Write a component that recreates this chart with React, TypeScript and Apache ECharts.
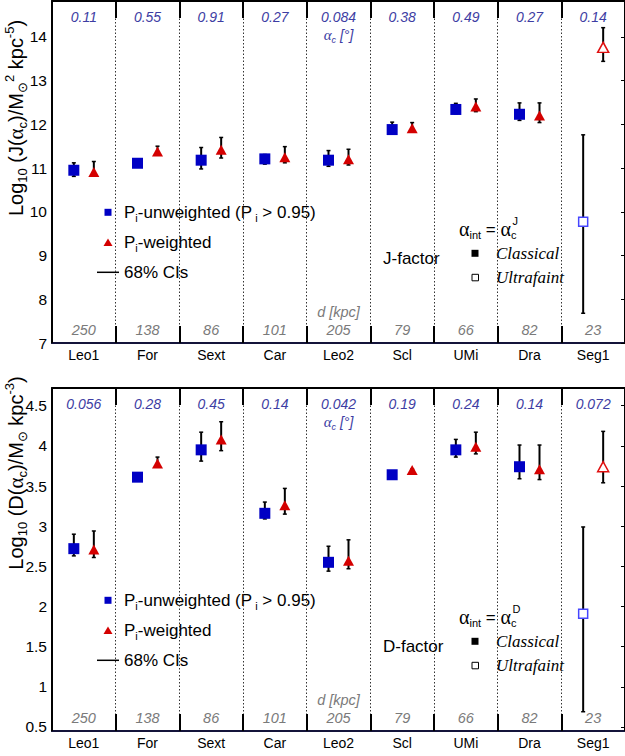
import React, { useEffect, useRef } from 'react';
import * as echarts from 'echarts';

// ---------- data ----------
const categories = ['Leo1', 'For', 'Sext', 'Car', 'Leo2', 'Scl', 'UMi', 'Dra', 'Seg1'];
const distances = ['250', '138', '86', '101', '205', '79', '66', '82', '23'];
const alphaJ = ['0.11', '0.55', '0.91', '0.27', '0.084', '0.38', '0.49', '0.27', '0.14'];
const alphaD = ['0.056', '0.28', '0.45', '0.14', '0.042', '0.19', '0.24', '0.14', '0.072'];
const ultrafaint = [false, false, false, false, false, false, false, false, true];

const jUnw = [10.95, 11.11, 11.18, 11.21, 11.18, 11.88, 12.34, 12.23, 9.77];
const jUnwLo = [10.81, 11.05, 10.98, 11.09, 11.04, 11.81, 12.24, 12.09, 7.68];
const jUnwHi = [11.12, 11.21, 11.47, 11.31, 11.40, 12.05, 12.48, 12.49, 11.76];
const jW = [10.91, 11.38, 11.42, 11.25, 11.20, 11.91, 12.41, 12.20, 13.76];
const jWLo = [10.83, 11.31, 11.23, 11.12, 11.07, 11.88, 12.29, 12.04, 13.44];
const jWHi = [11.15, 11.50, 11.70, 11.49, 11.43, 12.04, 12.58, 12.49, 14.21];

const dUnw = [2.72, 3.61, 3.95, 3.16, 2.55, 3.64, 3.95, 3.74, 1.91];
const dUnwLo = [2.63, 3.60, 3.81, 3.09, 2.44, 3.63, 3.86, 3.59, 0.69];
const dUnwHi = [2.90, 3.62, 4.17, 3.30, 2.75, 3.65, 4.08, 4.01, 2.99];
const dW = [2.71, 3.78, 4.08, 3.26, 2.57, 3.70, 3.99, 3.71, 3.74];
const dWLo = [2.61, 3.75, 3.94, 3.15, 2.47, 3.69, 3.90, 3.58, 3.54];
const dWHi = [2.94, 3.86, 4.30, 3.47, 2.83, 3.71, 4.17, 4.01, 4.18];

const jTicks = [7, 8, 9, 10, 11, 12, 13, 14];
const dTicks = [0.5, 1, 1.5, 2, 2.5, 3, 3.5, 4, 4.5];

// ---------- styles ----------
const FONT = '"Liberation Sans", Arial, Helvetica, sans-serif';
const SERIF = '"Liberation Serif", "DejaVu Serif", serif';
const BLUE = '#0000c4';
const RED = '#d40000';
const ALPHA_COL = '#3d3da3';
const D_COL = '#7a7a7a';

function errorSeries(xi: number, yi: number, lo: number[], hi: number[], offset: number) {
  return {
    type: 'custom',
    xAxisIndex: xi,
    yAxisIndex: yi,
    z: 2,
    silent: true,
    clip: false,
    encode: { x: 0, y: [1, 2] },
    data: lo.map((l, i) => [i, l, hi[i]]),
    renderItem: (_p: any, api: any) => {
      const top = api.coord([api.value(0), api.value(2)]);
      const bot = api.coord([api.value(0), api.value(1)]);
      const x = top[0] + offset;
      const cap = 2;
      const style = { stroke: '#000', lineWidth: 2 };
      const capStyle = { stroke: '#000', lineWidth: 1.5 };
      return {
        type: 'group',
        children: [
          { type: 'line', shape: { x1: x, y1: top[1], x2: x, y2: bot[1] }, style },
          { type: 'line', shape: { x1: x - cap, y1: top[1], x2: x + cap, y2: top[1] }, style: capStyle },
          { type: 'line', shape: { x1: x - cap, y1: bot[1], x2: x + cap, y2: bot[1] }, style: capStyle },
        ],
      };
    },
  };
}

function markerSeries(xi: number, yi: number, vals: number[], square: boolean) {
  return {
    type: 'scatter',
    xAxisIndex: xi,
    yAxisIndex: yi,
    z: 3,
    silent: true,
    symbol: square ? 'rect' : 'triangle',
    symbolSize: square ? 11 : [11, 10],
    symbolOffset: [square ? -10 : 10, 0],
    itemStyle: { color: square ? BLUE : RED, opacity: 1 },
    data: vals.map((v, i) =>
      ultrafaint[i]
        ? {
            value: [i, v],
            symbolSize: square ? 9 : [11, 10],
            itemStyle: { color: '#fff', borderColor: square ? '#4646ff' : '#e01010', borderWidth: 1.5 },
          }
        : [i, v]
    ),
  };
}

function xAxes(g: number, alpha: string[]) {
  const line = { show: true, onZero: false, lineStyle: { color: '#000', width: 2 } };
  const tick = { show: true, inside: true, length: 17, interval: 0, lineStyle: { color: '#000', width: 2 } };
  return [
    {
      type: 'category', gridIndex: g, data: categories, position: 'bottom', boundaryGap: true,
      axisLine: { ...line, lineStyle: { color: '#14143a', width: 2 } }, axisTick: tick,
      axisLabel: { interval: 0, fontSize: 14, color: '#000', fontFamily: FONT, margin: 5 },
      splitLine: { show: true, interval: 0, lineStyle: { type: [1.5, 2], color: '#333', width: 1 } },
    },
    {
      type: 'category', gridIndex: g, data: alpha, position: 'top', boundaryGap: true,
      axisLine: line, axisTick: tick,
      axisLabel: {
        inside: true, interval: 0, margin: 7,
        formatter: (v: string, i: number) => (i === 4 ? `{v|${v}}\n{a|α}{s|c}{v| [°]}` : `{v|${v}}`),
        rich: {
          v: { fontSize: 14, fontStyle: 'italic', color: ALPHA_COL, fontFamily: FONT, lineHeight: 18 },
          a: { fontSize: 15, fontStyle: 'italic', color: ALPHA_COL, fontFamily: SERIF, lineHeight: 18 },
          s: { fontSize: 9, fontStyle: 'italic', color: ALPHA_COL, fontFamily: FONT, lineHeight: 9, verticalAlign: 'bottom' },
        },
      },
    },
    {
      type: 'category', gridIndex: g, data: distances, position: 'bottom', boundaryGap: true,
      axisLine: { show: false, onZero: false }, axisTick: { show: false },
      axisLabel: {
        inside: true, interval: 0, margin: 4,
        formatter: (v: string, i: number) => (i === 4 ? `{v|d [kpc]}\n{v|${v}}` : `{v|${v}}`),
        rich: { v: { fontSize: 14.5, fontStyle: 'italic', color: D_COL, fontFamily: FONT, lineHeight: 18 } },
      },
    },
  ];
}

function yAxes(g: number, min: number, max: number, ticks: number[]) {
  return [
    {
      type: 'value', gridIndex: g, min, max, position: 'left',
      axisLine: { show: true, lineStyle: { color: '#000', width: 2 } },
      axisTick: { show: false },
      axisLabel: { customValues: ticks, fontSize: 15.5, color: '#000', fontFamily: FONT, margin: 5 },
      splitLine: { show: false },
    },
    {
      type: 'value', gridIndex: g, min, max, position: 'right',
      axisLine: { show: true, lineStyle: { color: '#000', width: 2 } },
      axisTick: { show: true, inside: true, length: 4, customValues: ticks, lineStyle: { color: '#000', width: 1 } },
      axisLabel: { show: false },
      splitLine: { show: false },
    },
  ];
}

const yRich = {
  t: { fontSize: 20, fontFamily: FONT, color: '#000', lineHeight: 26 },
  a: { fontSize: 21, fontFamily: SERIF, color: '#000', lineHeight: 26 },
  s: { fontSize: 13, fontFamily: FONT, color: '#000', lineHeight: 13, verticalAlign: 'bottom' },
  p: { fontSize: 13, fontFamily: FONT, color: '#000', lineHeight: 13, verticalAlign: 'top' },
};

function legendGraphics(dy: number, factor: string, sup: string) {
  const txt = (x: number, y: number, text: string, extra: any = {}) => ({
    type: 'text', x, y,
    style: { text, fontSize: 17, fontFamily: FONT, fill: '#000', align: 'left', verticalAlign: 'middle', ...extra },
  });
  const legRich = {
    t: { fontSize: 17, fontFamily: FONT, color: '#000', lineHeight: 22 },
    s: { fontSize: 11, fontFamily: FONT, color: '#000', lineHeight: 11, verticalAlign: 'bottom' },
    a: { fontSize: 20, fontFamily: SERIF, color: '#000', lineHeight: 22 },
  };
  return [
    { type: 'rect', shape: { x: 104.5, y: 208.8 + dy, width: 7, height: 7 }, style: { fill: BLUE } },
    txt(124, 212.5 + dy, '{t|P}{s|i}{t|-unweighted (P}{s| i}{t| > 0.95)}', { rich: legRich }),
    { type: 'polygon', shape: { points: [[108, 238.5 + dy], [112.5, 246 + dy], [103.5, 246 + dy]] }, style: { fill: RED } },
    txt(124, 242.5 + dy, '{t|P}{s|i}{t|-weighted}', { rich: legRich }),
    { type: 'line', shape: { x1: 97, y1: 272.3 + dy, x2: 119, y2: 272.3 + dy }, style: { stroke: '#000', lineWidth: 1.5 } },
    txt(124, 272.5 + dy, '68% CIs'),
    txt(383, 258 + dy, factor),
    txt(459, 229 + dy, '{a|α}{s|int}{t| = }{a|α}{s|c}', { rich: legRich }),
    txt(512.5, 221 + dy, sup, { fontSize: 11 }),
    { type: 'rect', shape: { x: 471.5, y: 249.8 + dy, width: 7, height: 7 }, style: { fill: '#000' } },
    txt(496, 253.5 + dy, 'Classical', { fontFamily: SERIF, fontStyle: 'italic' }),
    { type: 'rect', shape: { x: 472, y: 274.3 + dy, width: 6.5, height: 6.5 }, style: { fill: '#fff', stroke: '#000', lineWidth: 1 } },
    txt(496, 277.5 + dy, 'Ultrafaint', { fontFamily: SERIF, fontStyle: 'italic' }),
  ];
}

export default function App() {
  const ref = useRef<HTMLDivElement>(null);
  useEffect(() => {
    document.body.style.margin = '0';
    if (!ref.current) return;
    const chart = echarts.init(ref.current, null, { renderer: 'svg' });
    chart.setOption({
      animation: false,
      backgroundColor: '#fff',
      grid: [
        { left: 52, top: 1, width: 573, height: 342 },
        { left: 52, top: 388, width: 573, height: 343 },
      ],
      xAxis: [...xAxes(0, alphaJ), ...xAxes(1, alphaD)],
      yAxis: [...yAxes(0, 7, 14.82, jTicks), ...yAxes(1, 0.45, 4.72, dTicks)],
      series: [
        errorSeries(0, 0, jUnwLo, jUnwHi, -10),
        errorSeries(0, 0, jWLo, jWHi, 10),
        markerSeries(0, 0, jUnw, true),
        markerSeries(0, 0, jW, false),
        errorSeries(3, 2, dUnwLo, dUnwHi, -10),
        errorSeries(3, 2, dWLo, dWHi, 10),
        markerSeries(3, 2, dUnw, true),
        markerSeries(3, 2, dW, false),
      ],
      graphic: [
        {
          type: 'text', x: 16, y: 118, rotation: Math.PI / 2,
          style: {
            text: '{t|Log}{s|10}{t| (J(}{a|α}{s|c}{t|)/M}{s|⊙}{p|2}{t| kpc}{p|-5}{t|)}',
            rich: yRich, align: 'center', verticalAlign: 'middle',
          },
        },
        {
          type: 'text', x: 16, y: 473, rotation: Math.PI / 2,
          style: {
            text: '{t|Log}{s|10}{t| (D(}{a|α}{s|c}{t|)/M}{s|⊙}{t| kpc}{p|-3}{t|)}',
            rich: yRich, align: 'center', verticalAlign: 'middle',
          },
        },
        ...legendGraphics(0, 'J-factor', 'J'),
        ...legendGraphics(388, 'D-factor', 'D'),
      ],
    });
    return () => chart.dispose();
  }, []);
  return <div ref={ref} style={{ width: 625, height: 756 }} />;
}
